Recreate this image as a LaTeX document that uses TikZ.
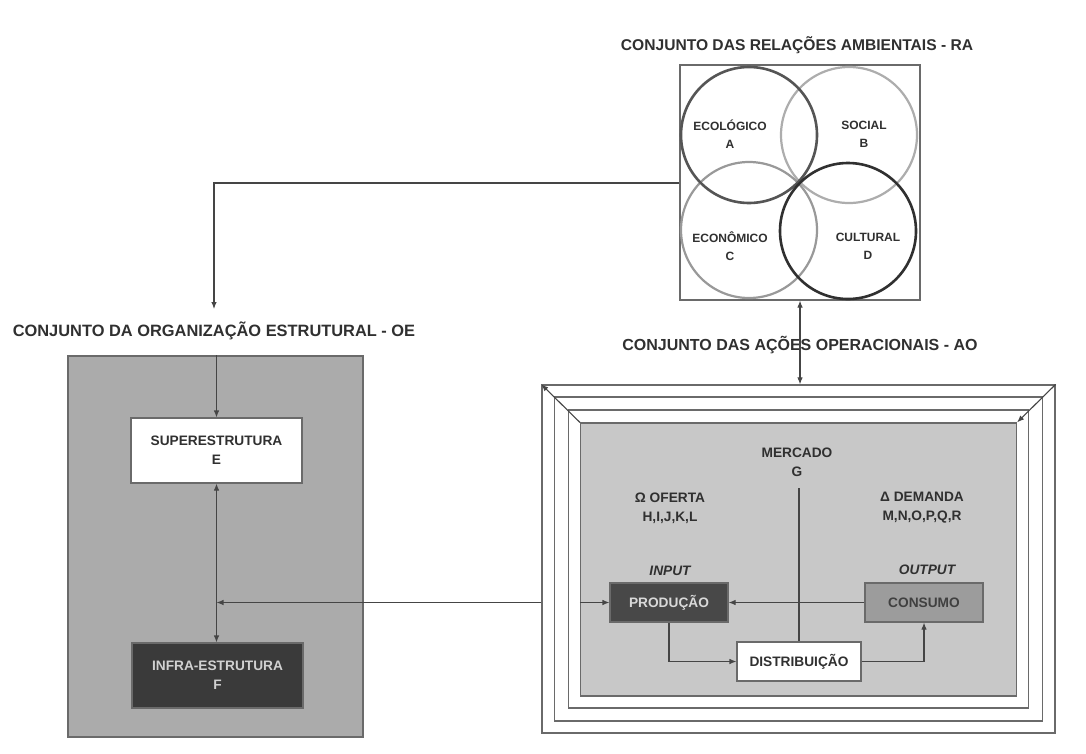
\documentclass[tikz,border=0pt]{standalone}
\usepackage{fontspec}
\setmainfont{Liberation Sans}
\usetikzlibrary{arrows.meta,calc}
\definecolor{txt}{HTML}{303030}
\definecolor{ln}{HTML}{454545}
\definecolor{frm}{HTML}{6A6A6A}
\definecolor{leftfill}{HTML}{ABABAB}
\definecolor{rightfill}{HTML}{C8C8C8}
\definecolor{darkbox}{HTML}{484848}
\definecolor{infrafill}{HTML}{3A3A3A}
\definecolor{consfill}{HTML}{9C9C9C}
\definecolor{cA}{HTML}{555555}
\definecolor{cB}{HTML}{ADADAD}
\definecolor{cC}{HTML}{999999}
\definecolor{cD}{HTML}{303030}
\tikzset{
  title/.style={font=\fontsize{15.6}{18}\selectfont\bfseries, text=txt},
  lbl/.style={font=\fontsize{13.7}{19}\selectfont\bfseries, text=txt, align=center},
  clbl/.style={font=\fontsize{12}{18}\selectfont\bfseries, text=txt, align=center},
  itlbl/.style={font=\fontsize{13.7}{19}\selectfont\bfseries\itshape, text=txt},
  boxstyle/.style={draw=frm, line width=1.1pt, inner sep=0pt},
  frameline/.style={draw=frm, line width=1.2pt, inner sep=0pt},
  conn/.style={draw=ln, line width=1.1pt},
  arr/.style={conn, -{Latex[length=7pt,width=5.5pt]}},
  darr/.style={conn, {Latex[length=7pt,width=5.5pt]}-{Latex[length=7pt,width=5.5pt]}},
  circ/.style={line width=2.2pt},
}
\begin{document}
\begin{tikzpicture}[x=1pt,y=-1pt]
\useasboundingbox[fill=white] (0,0) rectangle (1086,753);

% ---------- RA ----------
\node[title] (tra) at (797,45) {CONJUNTO DAS RELAÇÕES AMBIENTAIS - RA};
\node[boxstyle, fill=white, minimum width=240pt, minimum height=235pt] (ra) at (800,182.5) {};
\draw[circ, draw=cB] (849,135) circle (68);
\draw[circ, draw=cC] (749,230) circle (68);
\draw[circ, draw=cA, line width=2.6pt] (749,135) circle (68);
\draw[circ, draw=cD, line width=2.6pt] (848,231) circle (68);
\node[clbl] (la) at (730,134) {ECOLÓGICO\\A};
\node[clbl] (lb) at (864,134) {SOCIAL\\B};
\node[clbl] (lc) at (730,246) {ECONÔMICO\\C};
\node[clbl] (ld) at (868,246) {CULTURAL\\D};

% ---------- OE ----------
\node[title, font=\fontsize{16.4}{18}\selectfont\bfseries] (toe) at (214,331) {CONJUNTO DA ORGANIZAÇÃO ESTRUTURAL - OE};
\node[boxstyle, fill=leftfill, minimum width=295pt, minimum height=381pt] (oe) at (215.5,546.5) {};
\node[boxstyle, fill=white, minimum width=171pt, minimum height=65pt, lbl] (sup) at (216.5,450.5) {SUPERESTRUTURA\\E};
\node[boxstyle, fill=infrafill, minimum width=171pt, minimum height=65pt, lbl, text=white!82!black] (inf) at (217.5,675.5) {INFRA-ESTRUTURA\\F};
\coordinate (oetop) at (sup.north |- oe.north);
\draw[arr] (oetop) -- (sup.north);
\draw[darr] (sup.south) -- (sup.south |- inf.north);

% RA -> OE
\coordinate (bend) at (214,183);
\coordinate (oein) at (214,309);
\draw[arr] (ra.west |- bend) -- (bend) -- (oein);

% ---------- AO ----------
\node[title, font=\fontsize{16}{18}\selectfont\bfseries] (tao) at (800,345) {CONJUNTO DAS AÇÕES OPERACIONAIS - AO};
\node[frameline, minimum width=513pt, minimum height=348pt] (f1) at (798.5,559) {};
\node[frameline, minimum width=488pt, minimum height=324pt] (f2) at (798.5,559) {};
\node[frameline, minimum width=460pt, minimum height=298pt] (f3) at (798.5,559) {};
\node[frameline, fill=rightfill, minimum width=436pt, minimum height=273pt] (f4) at (798.5,559.5) {};
\draw[arr] (f4.north west) -- (f1.north west);
\draw[arr] (f1.north east) -- (f4.north east);
\draw[darr] (ra.south) -- (ra.south |- f1.north);

\node[lbl] (merc) at (797,462) {MERCADO\\G};
\node[lbl] (ofe) at (670,508) {Ω OFERTA\\H,I,J,K,L};
\node[lbl] (dem) at (922,508) {Δ DEMANDA\\M,N,O,P,Q,R};
\node[itlbl] (inp) at (670,571) {INPUT};
\node[itlbl] (outp) at (927,570) {OUTPUT};

\node[boxstyle, fill=darkbox, minimum width=118pt, minimum height=39pt, lbl, text=white!85!black] (prod) at (669,602.5) {PRODUÇÃO};
\node[boxstyle, fill=consfill, minimum width=118pt, minimum height=39pt, lbl, text=black!75] (cons) at (924,602.5) {CONSUMO};
\node[boxstyle, fill=white, minimum width=124pt, minimum height=39pt, lbl] (dist) at (799,661.5) {DISTRIBUIÇÃO};

\coordinate (mtop) at (799,488);
\draw[conn] (mtop) -- (mtop |- dist.north);
\draw[arr] (cons.west) -- (prod.east);
\draw[arr] (prod.south) |- (dist.west);
\draw[arr] (dist.east) -| (cons.south);
\draw[arr] (f4.west |- prod.west) -- (prod.west);

% AO -> OE
\coordinate (oejoin) at (sup.south |- prod.west);
\draw[arr] (f1.west |- prod.west) -- (oejoin);
\end{tikzpicture}
\end{document}
